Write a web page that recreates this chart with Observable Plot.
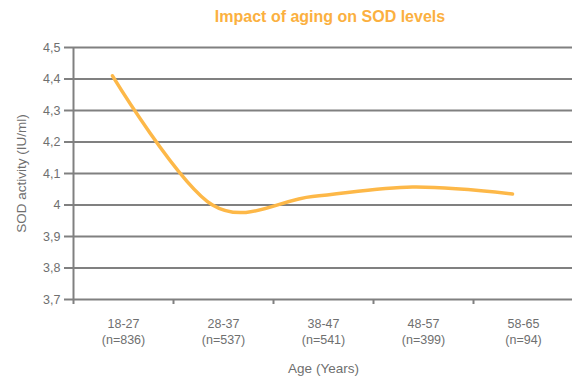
<!DOCTYPE html>
<html>
<head>
<meta charset="utf-8">
<script src="https://cdn.jsdelivr.net/npm/d3@7"></script>
<script src="https://cdn.jsdelivr.net/npm/@observablehq/plot@0.6"></script>
<style>
  html, body { margin: 0; padding: 0; background: #fff; }
  #title { width: 572px; height: 36px; box-sizing: border-box; padding: 8px 0 0 88px; line-height: 28px;
           text-align: center; font: bold 16px "Liberation Sans", Arial, sans-serif; color: #FBB040; }
</style>
</head>
<body>
<div id="title">Impact of aging on SOD levels</div>
<div id="chart"></div>
<script>
const ageGroups = ["18-27", "28-37", "38-47", "48-57", "58-65"];
const sampleSizes = ["n=836", "n=537", "n=541", "n=399", "n=94"];
const sodValues = [4.41, 4.0, 4.027, 4.057, 4.035];
const yTicks = [3.7, 3.8, 3.9, 4.0, 4.1, 4.2, 4.3, 4.4, 4.5];

const data = ageGroups.map((g, i) => ({idx: i + 0.5, group: g, n: sampleSizes[i], sod: sodValues[i]}));
const boundaries = d3.range(ageGroups.length + 1);
const centers = ageGroups.map((_, i) => i + 0.5);
const fmt = d3.formatLocale({decimal: ",", thousands: ".", grouping: [3], currency: ["", ""]}).format(".1~f");

const gray = "#808080";
const textGray = "#6f6f6f";
const font = "'Liberation Sans', Arial, sans-serif";

const chart = Plot.plot({
  width: 572,
  height: 342,
  marginTop: 11,
  marginBottom: 79,
  marginLeft: 73,
  marginRight: -1,
  style: {fontFamily: font, fontSize: "12px", color: textGray, background: "#fff"},
  x: {type: "linear", domain: [0, ageGroups.length]},
  y: {domain: [3.7, 4.5]},
  marks: [
    Plot.ruleY(yTicks, {stroke: gray, strokeWidth: 2}),
    Plot.ruleX([0], {stroke: gray, strokeWidth: 2, y1: 3.7, y2: 4.5}),
    Plot.axisY({ticks: yTicks, tickFormat: fmt, tickSize: 9, tickPadding: 4, stroke: gray, strokeWidth: 2,
                fill: textGray, fontSize: 12.5,
                label: "SOD activity (IU/ml)", labelAnchor: "center", labelOffset: 57, labelArrow: "none"}),
    Plot.axisX({ticks: boundaries, tickFormat: () => "", tickSize: 5, stroke: gray, strokeWidth: 2, label: null}),
    Plot.axisX({ticks: centers, tickSize: 0, tickPadding: 17, fill: textGray, fontSize: 12.5, lineHeight: 1.3,
                tickFormat: (d) => { const i = Math.round(d - 0.5); return ageGroups[i] + "\n(" + sampleSizes[i] + ")"; },
                label: "Age (Years)", labelAnchor: "center", labelOffset: 73, labelArrow: "none"}),
    Plot.line(data, {x: "idx", y: "sod", dx: -11, curve: "cardinal", stroke: "#FDB848", strokeWidth: 3.5})
  ]
});
chart.querySelectorAll("g[aria-label='y-axis label'] text, g[aria-label='x-axis label'] text").forEach(t => t.setAttribute("font-size", "13.5"));
document.getElementById("chart").appendChild(chart);
</script>
</body>
</html>
